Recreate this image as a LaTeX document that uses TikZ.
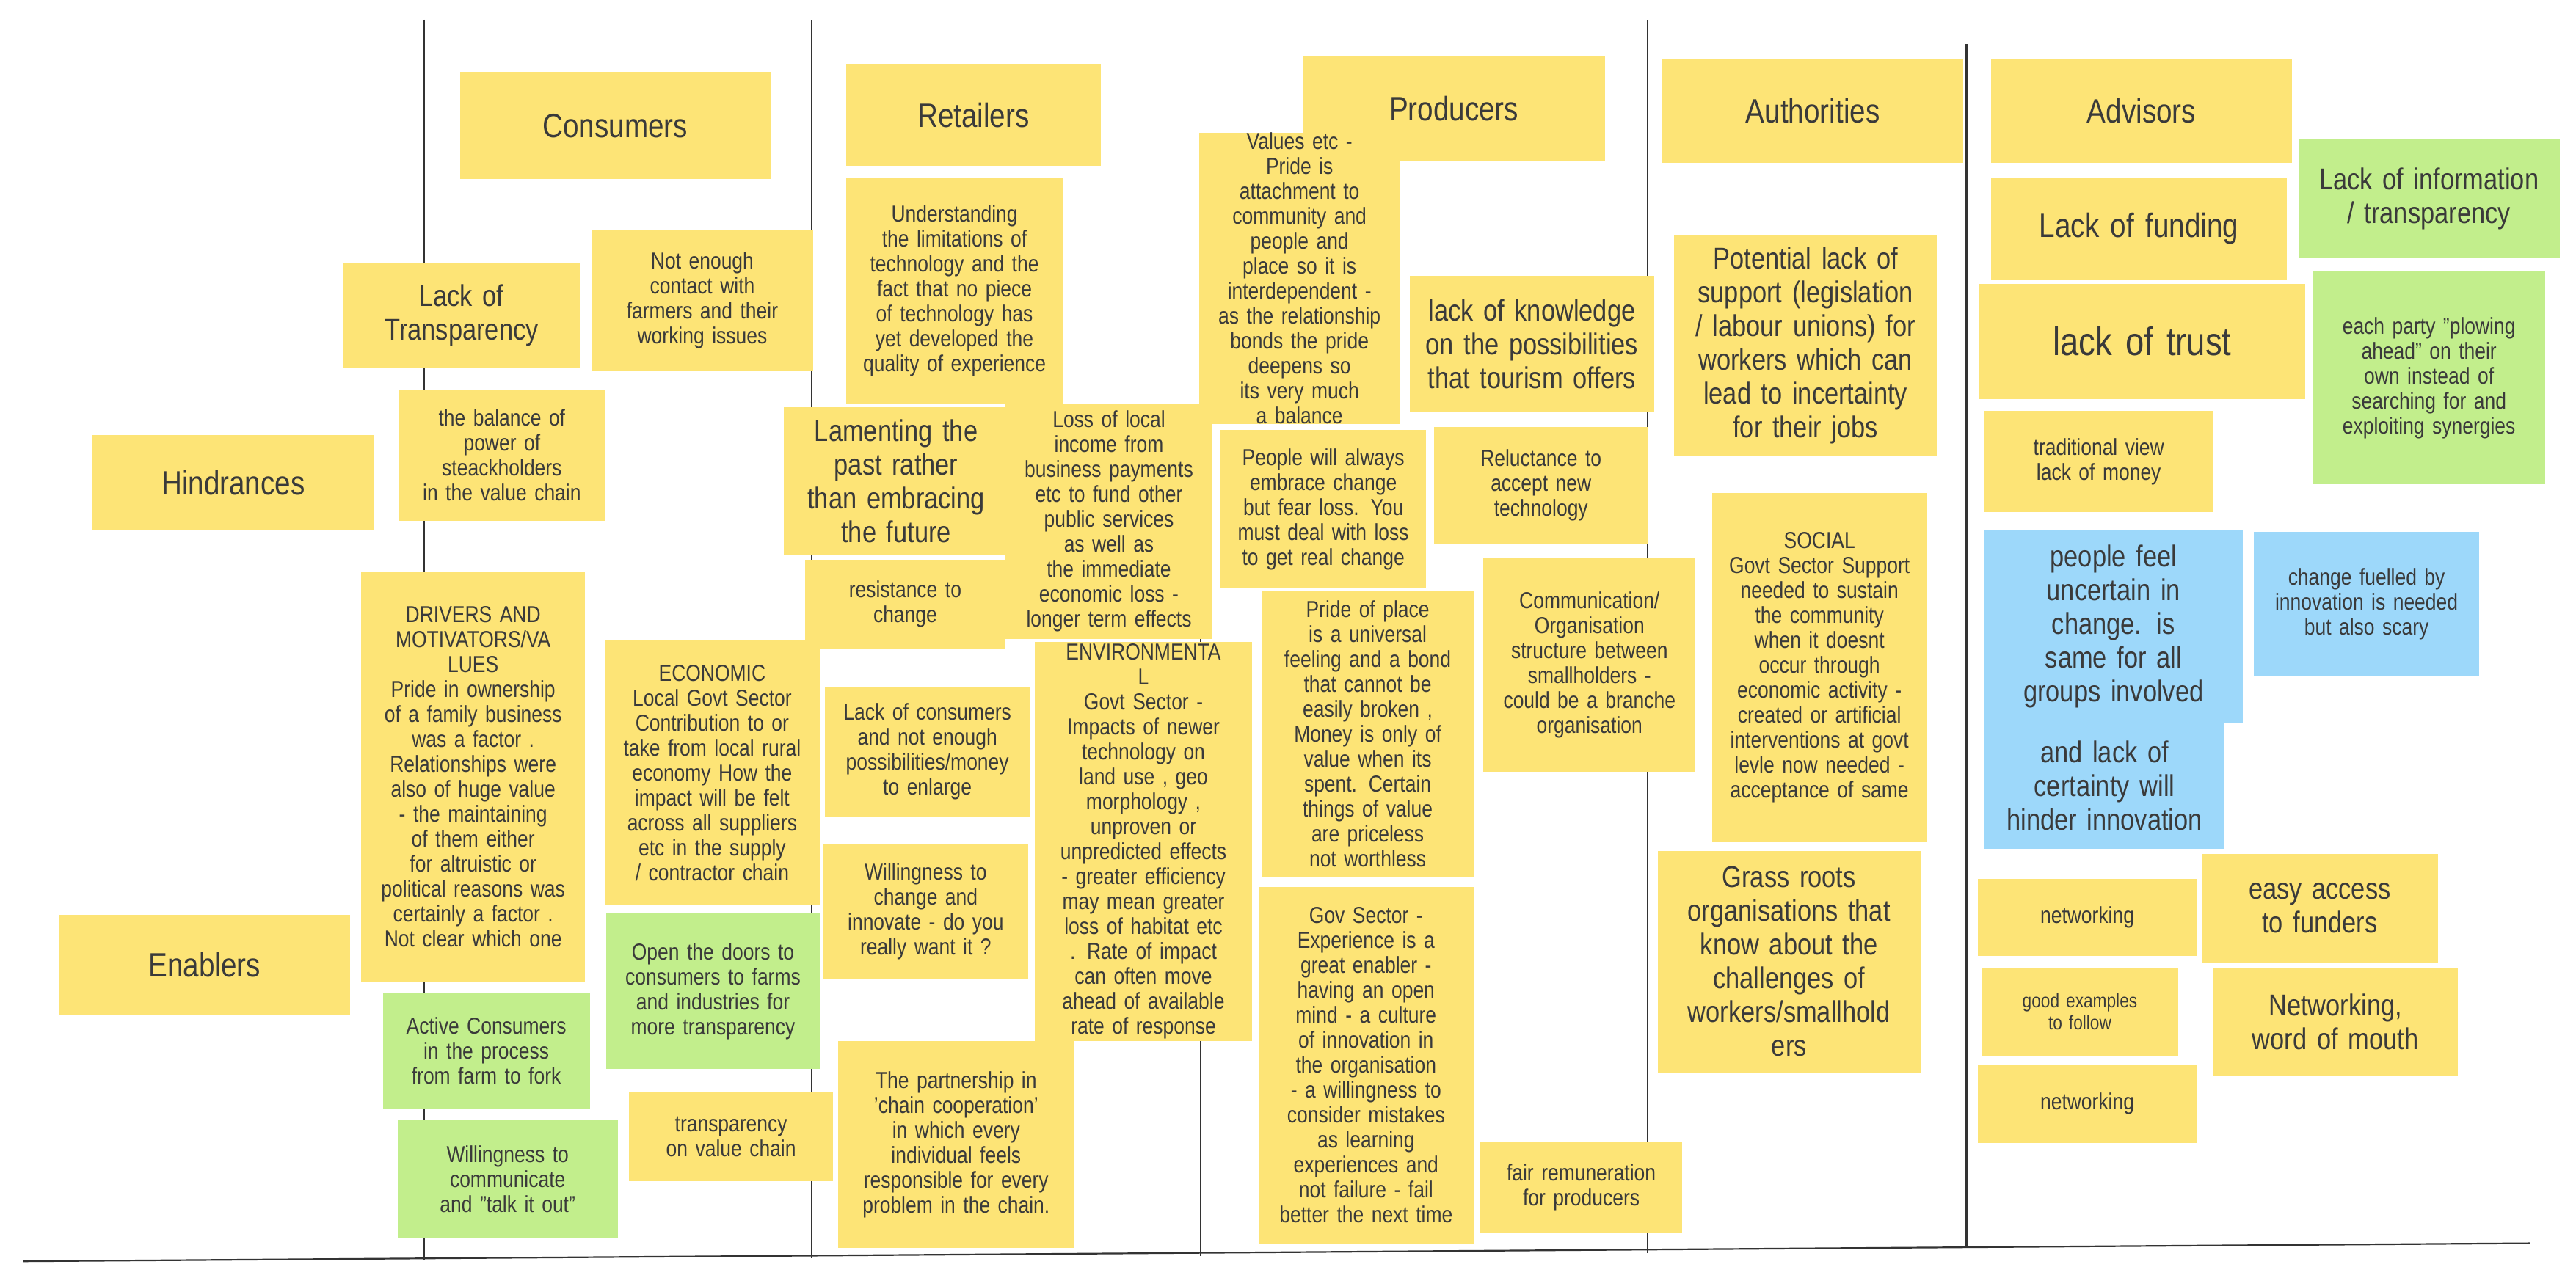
\documentclass[tikz,border=0pt]{standalone}
\usepackage{fontspec}
\setmainfont[FakeStretch=0.84]{Liberation Sans}
\usetikzlibrary{fit}
\definecolor{yel}{RGB}{253,228,118}
\definecolor{grn}{RGB}{194,238,140}
\definecolor{blu}{RGB}{157,216,250}
\definecolor{txt}{RGB}{58,58,58}
\newcommand\nohy{\hyphenpenalty=10000 \exhyphenpenalty=10000 }
\newcommand\fs{\nohy\fontsize{31.5}{34}\selectfont}
\newcommand\fx{\nohy\fontsize{27}{30}\selectfont}
\newcommand\fm{\nohy\fontsize{41}{46}\selectfont}
\newcommand\fl{\nohy\fontsize{46}{52}\selectfont}
\newcommand\ft{\nohy\fontsize{54}{60}\selectfont}
\newcommand\card[8]{%
  \pgfmathsetmacro\cw{(#4-#2)*2.2385-42}%
  \node[cardbox, fill=#6, fit={(#2,#3) (#4,#5)}] (#1) {};
  \node[font=#7, text=txt, text width=\cw pt, align=center] (#1t) at (#1.center) {#8};}
\begin{document}
\begin{tikzpicture}[x=2.2385pt,y=-2.2385pt,
  cardbox/.style={inner sep=0pt, draw=none},
  axis/.style={draw=black!80, line width=2.2pt}]
\useasboundingbox[fill=white] (0,0) rectangle (1568,778);
\coordinate (v1a) at (258,12); \coordinate (v1b) at (258,767);
\coordinate (v2a) at (494,12); \coordinate (v2b) at (494,766);
\coordinate (v3a) at (731,330); \coordinate (v3b) at (731,765);
\coordinate (v4a) at (1003,12); \coordinate (v4b) at (1003,763);
\coordinate (v5a) at (1197,27); \coordinate (v5b) at (1197,760);
\coordinate (ha) at (14,768); \coordinate (hb) at (1540,757);
\draw[axis] (v1a)--(v1b); \draw[axis] (v2a)--(v2b); \draw[axis] (v3a)--(v3b);
\draw[axis] (v4a)--(v4b); \draw[axis] (v5a)--(v5b); \draw[axis] (ha)--(hb);
% headers
\card{hcons}{280}{44}{469}{109}{yel}{\fl}{Consumers}
\card{hret}{515}{39}{670}{101}{yel}{\fl}{Retailers}
\card{hprod}{793}{34}{977}{98}{yel}{\fl}{Producers}
\card{hauth}{1012}{36}{1195}{99}{yel}{\fl}{Authorities}
\card{hadv}{1212}{36}{1395}{99}{yel}{\fl}{Advisors}
\card{hind}{56}{265}{228}{323}{yel}{\fl}{Hindrances}
\card{enab}{36}{557}{213}{618}{yel}{\fl}{Enablers}
% consumers
\card{c1}{209}{160}{353}{224}{yel}{\fm}{Lack of\\Transparency}
\card{c2}{360}{140}{495}{226}{yel}{\fs}{Not enough\\contact with farmers and their working issues}
\card{c3}{243}{237}{368}{317}{yel}{\fs}{the balance of\\power of steackholders in the value chain}
\card{c4}{220}{348}{356}{598}{yel}{\fs}{DRIVERS AND MOTIVATORS/VA\\LUES\\Pride in ownership of a family business was a factor .\\Relationships were also of huge value - the maintaining of them either for altruistic or political reasons was certainly a factor .\\Not clear which one}
\card{c5}{368}{390}{499}{551}{yel}{\fs}{ECONOMIC\\Local Govt Sector Contribution to or take from local rural economy How the impact will be felt across all suppliers etc in the supply / contractor chain}
\card{c6}{369}{556}{499}{651}{grn}{\fs}{Open the doors to consumers to farms and industries for more transparency}
\card{c7}{233}{605}{359}{675}{grn}{\fs}{Active Consumers in the process from farm to fork}
\card{c8}{242}{682}{376}{754}{grn}{\fs}{Willingness to communicate and "talk it out"}
\card{c9}{383}{665}{507}{719}{yel}{\fs}{transparency on value chain}
% retailers
\card{r1}{515}{108}{647}{246}{yel}{\fs}{Understanding the limitations of technology and the fact that no piece of technology has yet developed the quality of experience}
\card{r2}{477}{248}{614}{338}{yel}{\fm}{Lamenting the past rather than embracing the future}
\card{r3}{490}{341}{612}{395}{yel}{\fs}{resistance to\\change}
\card{r4}{612}{246}{738}{389}{yel}{\fs}{Loss of local income from business payments etc to fund other public services as well as the immediate economic loss - longer term effects}
\card{r5}{502}{418}{627}{497}{yel}{\fs}{Lack of consumers and not enough possibilities/money to enlarge}
\card{r6}{501}{514}{626}{596}{yel}{\fs}{Willingness to change and innovate - do you really want it ?}
\card{r7}{630}{391}{762}{634}{yel}{\fs}{ENVIRONMENTA\\L\\Govt Sector - Impacts of newer technology on land use , geo morphology , unproven or unpredicted effects - greater efficiency may mean greater loss of habitat etc . Rate of impact can often move ahead of available rate of response}
\card{r8}{510}{634}{654}{760}{yel}{\fs}{The partnership in 'chain cooperation' in which every individual feels responsible for every problem in the chain.}
% producers
\card{p1}{730}{81}{852}{258}{yel}{\fs}{Values etc -\\Pride is\\attachment to community and people and place so it is interdependent - as the relationship bonds the pride deepens so its very much a balance}
\card{p2}{858}{168}{1007}{251}{yel}{\fm}{lack of knowledge on the possibilities that tourism offers}
\card{p3}{743}{262}{868}{358}{yel}{\fs}{People will always embrace change but fear loss. You must deal with loss to get real change}
\card{p4}{873}{260}{1003}{331}{yel}{\fs}{Reluctance to accept new technology}
\card{p5}{768}{360}{897}{534}{yel}{\fs}{Pride of place is a universal feeling and a bond that cannot be easily broken ,\\Money is only of value when its spent. Certain things of value are priceless not worthless}
\card{p6}{903}{340}{1032}{470}{yel}{\fs}{Communication/ Organisation structure between smallholders - could be a branche organisation}
\card{p7}{766}{540}{897}{757}{yel}{\fs}{Gov Sector - Experience is a great enabler - having an open mind - a culture of innovation in the organisation - a willingness to consider mistakes as learning experiences and not failure - fail better the next time}
\card{p8}{901}{695}{1024}{751}{yel}{\fs}{fair remuneration for producers}
% authorities
\card{a1}{1019}{143}{1179}{278}{yel}{\fm}{Potential lack of support (legislation / labour unions) for workers which can lead to incertainty for their jobs}
\card{a2}{1042}{300}{1173}{513}{yel}{\fs}{SOCIAL\\Govt Sector Support needed to sustain the community when it doesnt occur through economic activity - created or artificial interventions at govt levle now needed - acceptance of same}
\card{a3}{1009}{518}{1169}{653}{yel}{\fm}{Grass roots organisations that know about the challenges of workers/smallhold\\ers}
% advisors
\card{d1}{1212}{108}{1392}{170}{yel}{\fl}{Lack of funding}
\card{d2}{1205}{173}{1403}{243}{yel}{\ft}{lack of trust}
\card{d3}{1399}{85}{1558}{157}{grn}{\fm}{Lack of information / transparency}
\card{d4}{1408}{165}{1549}{295}{grn}{\fs}{each party "plowing ahead" on their own instead of searching for and exploiting synergies}
\card{d5}{1208}{250}{1347}{312}{yel}{\fs}{traditional view lack of money}
\card{d6}{1208}{323}{1365}{440}{blu}{\fm}{people feel uncertain in change. is same for all groups involved}
\card{d7}{1372}{324}{1509}{412}{blu}{\fs}{change fuelled by innovation is needed but also scary}
\card{d8}{1208}{440}{1354}{517}{blu}{\fm}{and lack of certainty will hinder innovation}
\card{d9}{1204}{535}{1337}{582}{yel}{\fs}{networking}
\card{d10}{1340}{520}{1484}{586}{yel}{\fm}{easy access to funders}
\card{d11}{1206}{589}{1326}{643}{yel}{\fx}{good examples to follow}
\card{d12}{1347}{589}{1496}{655}{yel}{\fm}{Networking, word of mouth}
\card{d13}{1204}{648}{1337}{696}{yel}{\fs}{networking}
\end{tikzpicture}
\end{document}
